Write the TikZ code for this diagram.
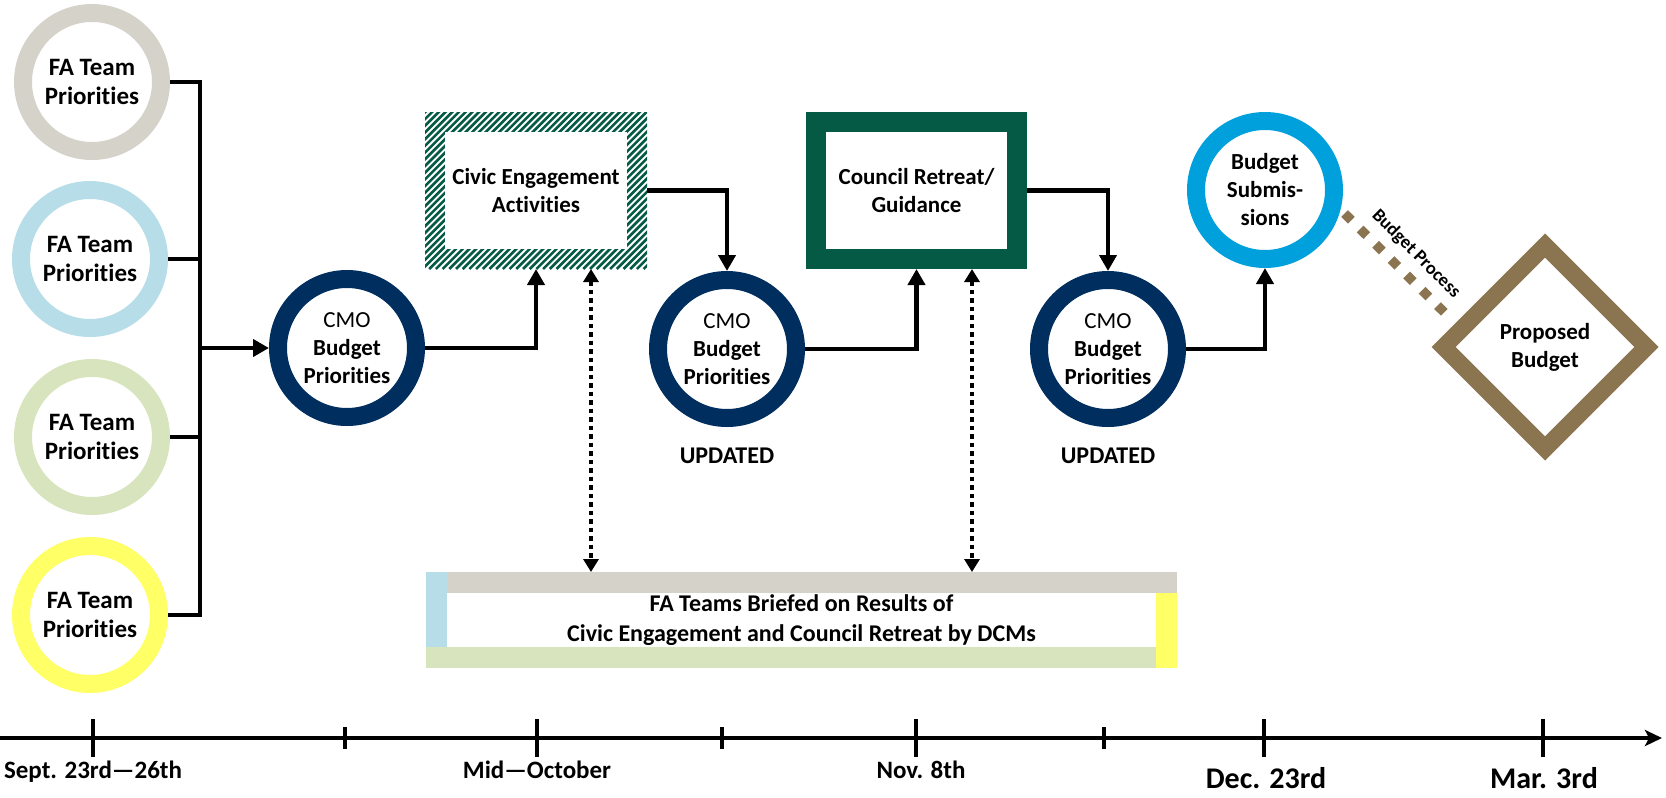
\documentclass[tikz,border=0pt]{standalone}
\usepackage{fontspec}
\setmainfont{Carlito}[Ligatures=NoCommon]
\usetikzlibrary{arrows.meta,shapes.geometric,calc}
\definecolor{fagray}{HTML}{D5D2CA}
\definecolor{fablue}{HTML}{B7DDE8}
\definecolor{fagreen}{HTML}{D7E4BD}
\definecolor{fayellow}{HTML}{FFFF66}
\definecolor{navy}{HTML}{002E5F}
\definecolor{dkgreen}{HTML}{055A46}
\definecolor{subblue}{HTML}{00A0DC}
\definecolor{tan}{HTML}{8B7550}
\begin{document}
\begin{tikzpicture}[x=1pt,y=-1pt,
  fatxt/.style={font=\fontsize{25}{29}\selectfont\bfseries, align=center},
  txt/.style={font=\fontsize{23}{28}\selectfont\bfseries, align=center},
  brieftxt/.style={font=\fontsize{24}{30}\selectfont\bfseries, align=center},
  ring/.style={circle, draw=#1, line width=18pt, minimum size=138pt, inner sep=0pt},
  conn/.style={line width=4.5pt, -{Triangle[length=16pt,width=17pt]}},
  lineseg/.style={line width=4.5pt},
  dotarrow/.style={line width=4.5pt, dash pattern=on 4.5pt off 4pt,
     {Triangle[length=13pt,width=15pt]}-{Triangle[length=13pt,width=15pt]}},
  smalllab/.style={font=\fontsize{25}{28}\selectfont\bfseries, inner sep=0pt, anchor=base},
  biglab/.style={font=\fontsize{30}{34}\selectfont\bfseries, inner sep=0pt, anchor=base},
  updlab/.style={font=\fontsize{24}{28}\selectfont\bfseries, inner sep=0pt},
  hatch/.style={dkgreen, line width=2.6pt}
]
\useasboundingbox (0,0) rectangle (1666,798);

% FA team circles
\node[ring=fagray, fatxt]   (fa1) at (92,82)  {FA Team\\Priorities};
\node[ring=fablue, fatxt]   (fa2) at (90,259) {FA Team\\Priorities};
\node[ring=fagreen, fatxt]  (fa3) at (92,437) {FA Team\\Priorities};
\node[ring=fayellow, fatxt] (fa4) at (90,615) {FA Team\\Priorities};

% CMO circles
\node[ring=navy, txt] (cmo1) at (347,348)  {{\mdseries CMO}\\Budget\\Priorities};
\node[ring=navy, txt] (cmo2) at (727,349)  {{\mdseries CMO}\\Budget\\Priorities};
\node[ring=navy, txt] (cmo3) at (1108,349) {{\mdseries CMO}\\Budget\\Priorities};
\node[updlab] (upd1) at (727,456)  {UPDATED};
\node[updlab] (upd2) at (1108,456) {UPDATED};

% Civic engagement (hatched frame)
\node[rectangle, minimum width=222pt, minimum height=157pt, inner sep=0pt, outer sep=0pt] (civic) at (536,190.5) {};
\begin{scope}
  \clip (civic.south west) rectangle (civic.north east);
  \foreach \s in {-170,-163.3,...,230}{
    \draw[hatch] ($(civic.south west)+(\s,0)$) -- ++(170,-170);
  }
\end{scope}
\node[rectangle, fill=white, minimum width=182pt, minimum height=117pt, inner sep=0pt, txt] (civictxt) at (civic) {Civic Engagement\\Activities};

% Council retreat
\node[rectangle, draw=dkgreen, line width=20pt, minimum width=201pt, minimum height=137pt, inner sep=0pt, txt] (council) at (916.5,190.5) {Council Retreat/\\Guidance};

% Budget submissions
\node[ring=subblue, txt] (subm) at (1265,190) {Budget\\Submis-\\sions};

% Proposed budget
\node[diamond, draw=tan, line width=17pt, minimum size=210pt, inner sep=0pt, txt] (prop) at (1545,347) {Proposed\\Budget};

% Briefing box
\node[minimum width=751pt, minimum height=96pt, inner sep=0pt, outer sep=0pt, brieftxt] (brief) at (801.5,620) {FA Teams Briefed on Results of\\Civic Engagement and Council Retreat by DCMs};
\fill[fablue] (brief.north west) rectangle ($(brief.south west)+(21,-21)$);
\fill[fagray] ($(brief.north west)+(21,0)$) rectangle ($(brief.north east)+(0,21)$);
\fill[fayellow] ($(brief.north east)+(-21,21)$) rectangle (brief.south east);
\fill[fagreen] (brief.south west) rectangle ($(brief.south east)+(-21,-21)$);

% Bracket from FA teams
\coordinate (spine) at (200,0);
\draw[lineseg] (fa1.east) -- (fa1.east -| spine) -- (fa4.east -| spine) -- (fa4.east);
\draw[lineseg] (fa2.east) -- (fa2.east -| spine);
\draw[lineseg] (fa3.east) -- (fa3.east -| spine);
\draw[conn] (spine |- cmo1.west) -- (cmo1.west);

% Flow
\draw[conn] (cmo1.east) -| (civic.south);
\draw[conn] (civic.east) -| (cmo2.north);
\draw[conn] (cmo2.east) -| (council.south);
\draw[conn] (council.east) -| (cmo3.north);
\draw[conn] (cmo3.east) -| (subm.south);

% Dotted links to briefing
\coordinate (d1) at (591,0);
\coordinate (d2) at (972,0);
\draw[dotarrow] (civic.south -| d1) -- (brief.north -| d1);
\draw[dotarrow] (council.south -| d2) -- (brief.north -| d2);

% Budget process
\coordinate (bpA) at (1344.6,213.6);
\coordinate (bpB) at (1445.4,313.4);
\draw[tan, line width=9.5pt, dash pattern=on 9.5pt off 12.3pt] (bpA) -- (bpB);
\node[font=\fontsize{18.5}{22}\selectfont\bfseries, rotate=-45, inner sep=0pt] (bplabel) at (1416,254) {Budget Process};

% Timeline
\coordinate (tlA) at (0,738);
\coordinate (tlB) at (1662,738);
\draw[line width=4.5pt, -{Stealth[length=17pt,width=16pt,inset=4pt]}] (tlA) -- (tlB);
\foreach \n/\x in {t1/93,t2/537,t3/916,t4/1264,t5/1543}{
  \coordinate (\n) at (\x,738);
  \draw[line width=4.5pt] ($(\n)+(0,-19)$) -- ($(\n)+(0,19)$);
}
\foreach \n/\x in {m1/345,m2/722,m3/1104}{
  \coordinate (\n) at (\x,738);
  \draw[line width=4.5pt] ($(\n)+(0,-11)$) -- ($(\n)+(0,11)$);
}
\node[smalllab] (l1) at ($(t1)+(0,40)$) {Sept. 23rd—26th};
\node[smalllab] (l2) at ($(t2)+(0,40)$) {Mid—October};
\node[smalllab] (l3) at ($(t3)+(5,40)$) {Nov. 8th};
\node[biglab] (l4) at ($(t4)+(2,50)$) {Dec. 23rd};
\node[biglab] (l5) at ($(t5)+(1,50)$) {Mar. 3rd};
\end{tikzpicture}
\end{document}
